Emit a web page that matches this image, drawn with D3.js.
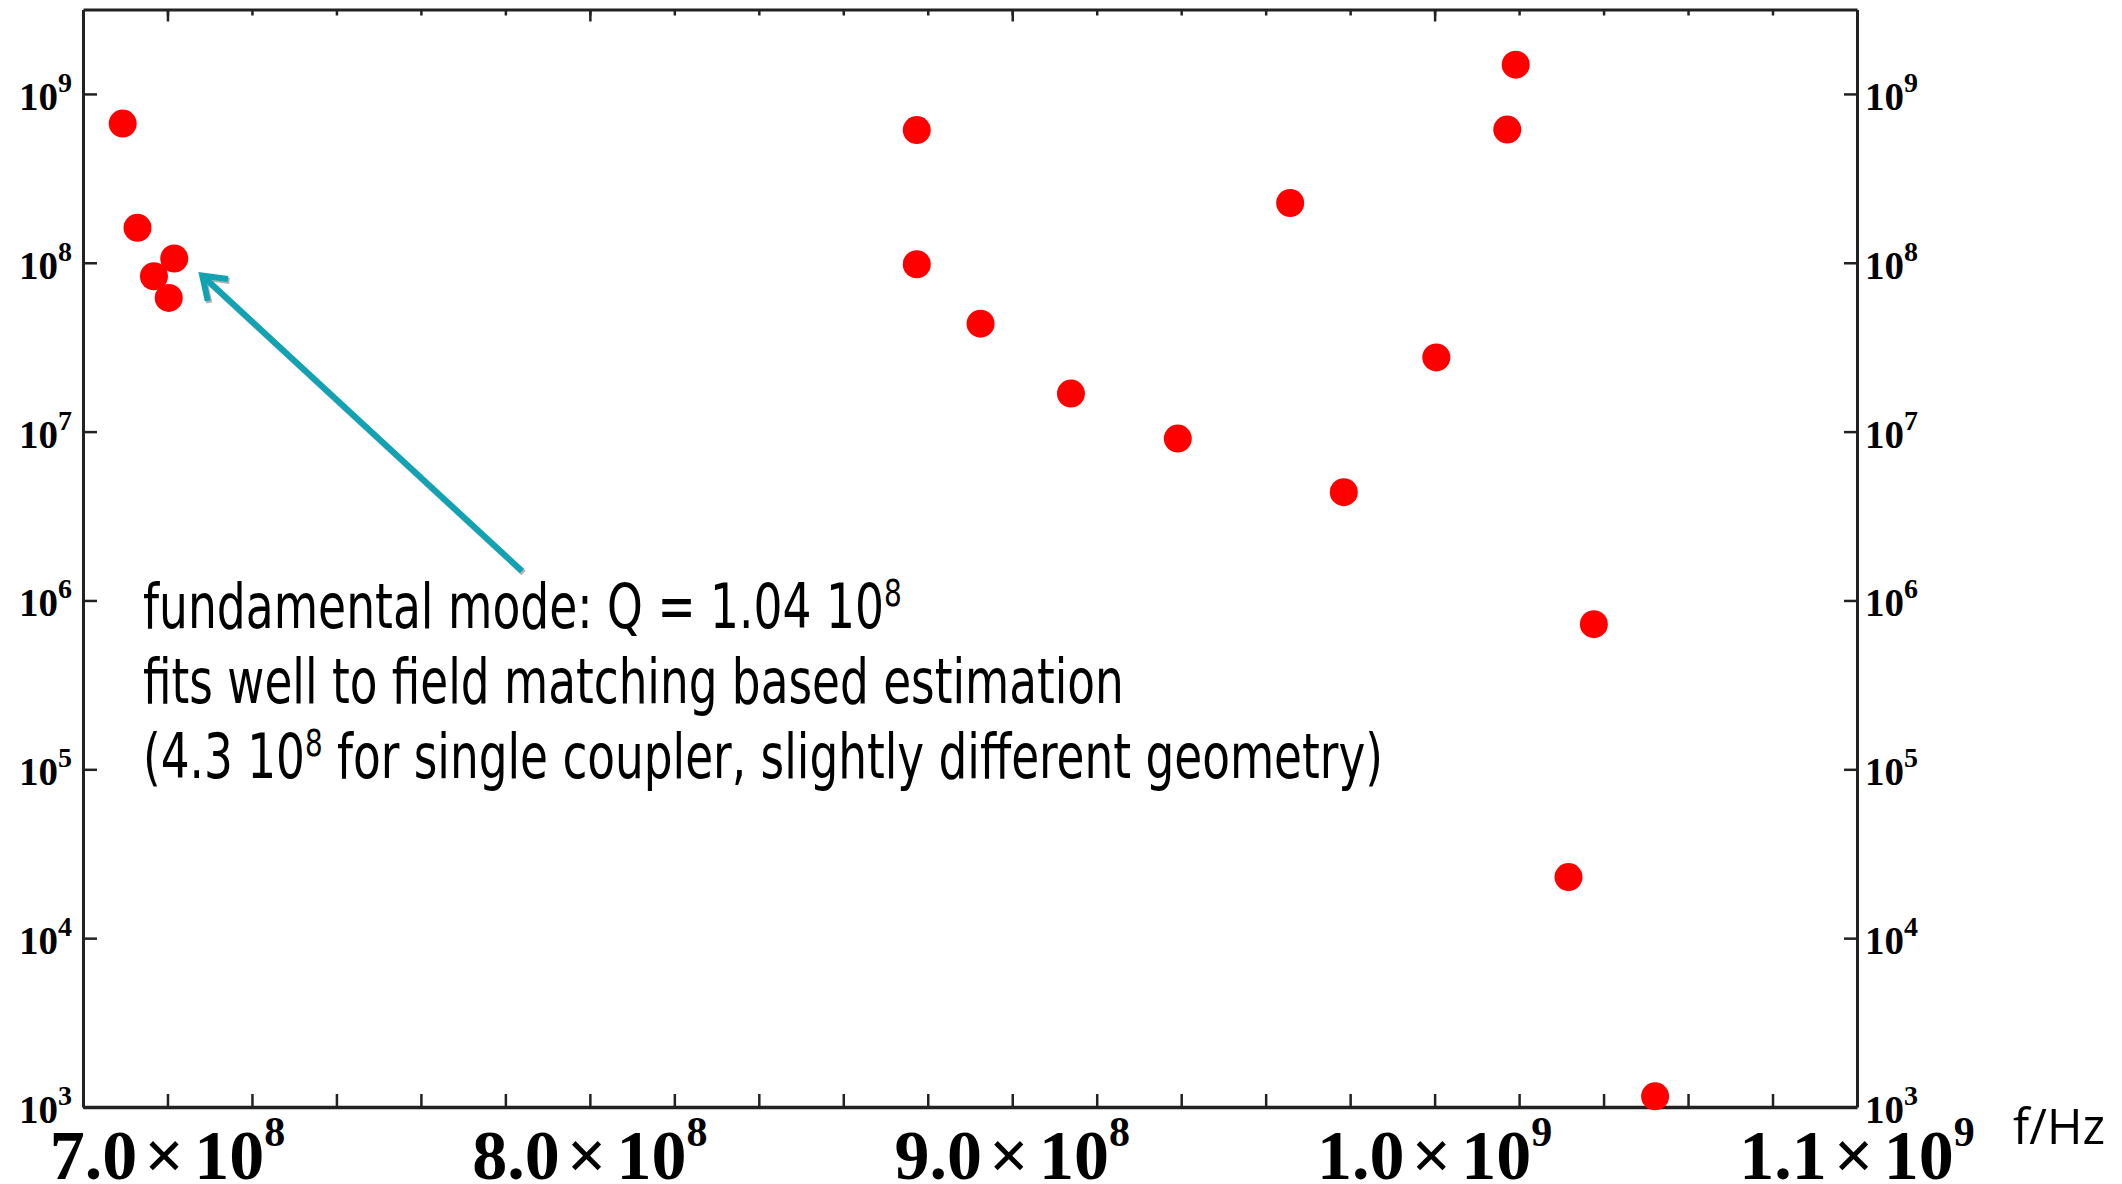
<!DOCTYPE html>
<html>
<head>
<meta charset="utf-8">
<script src="https://cdn.jsdelivr.net/npm/d3@7"></script>
<style>
  html, body { margin: 0; padding: 0; background: #fff; }
  svg { display: block; }
</style>
</head>
<body>
<svg id="chart" width="2122" height="1184"></svg>
<script>
var width = 2122,
    height = 1184;

// mode frequency (Hz) and quality factor
var freq = [6.894e8, 6.929e8, 6.968e8, 7.003e8, 7.016e8,
            8.774e8, 8.774e8, 8.925e8, 9.139e8, 9.392e8,
            9.658e8, 9.785e8, 1.0004e9, 1.0172e9, 1.0192e9,
            1.0317e9, 1.0377e9, 1.0522e9];
var qual = [6.67e8, 1.61e8, 8.32e7, 6.19e7, 1.06e8,
            6.11e8, 9.8e7, 4.36e7, 1.68e7, 9.1e6,
            2.26e8, 4.38e6, 2.75e7, 6.15e8, 1.49e9,
            2.30e4, 7.24e5, 1.157e3];

var xMajor = [7e8, 8e8, 9e8, 1e9, 1.1e9];
var xMant = ["7.0", "8.0", "9.0", "1.0", "1.1"];
var xExp = ["8", "8", "8", "9", "9"];
var yExp = [3, 4, 5, 6, 7, 8, 9];

var noteLines = [
  [["fundamental mode: Q = 1.04 10", 0], ["8", 1]],
  [["fits well to field matching based estimation", 0]],
  [["(4.3 10", 0], ["8", 1], [" for single coupler, slightly different geometry)", 0]]
];
var noteWidths = [759, 981, 1240];

var svg = d3.select("#chart");

var x = d3.scaleLinear()
    .domain([6.8e8, 1.1e9])
    .range([83, 1857]);

var y = d3.scaleLog()
    .domain([1e3, Math.pow(10, 9.5)])
    .range([1107, 9.5]);

var xMinor = d3.range(7.0e8, 1.1e9 - 1, 0.2e8);
var yTicks = yExp.map(function(e) { return Math.pow(10, e); });

function styleAxis(g, w) {
    g.selectAll("line").attr("stroke", "#222").attr("stroke-width", 2.5);
    g.select(".domain").attr("stroke", "#222").attr("stroke-width", w);
    g.selectAll("text").remove();
}

svg.append("g")
    .attr("transform", "translate(0,1107)")
    .call(d3.axisBottom(x).tickValues(xMinor).tickSize(-13).tickSizeOuter(0))
    .call(styleAxis, 3.5);

svg.append("g")
    .attr("transform", "translate(0,9.5)")
    .call(d3.axisTop(x).tickValues(xMinor).tickSize(-6).tickSizeOuter(0))
    .call(styleAxis, 3);

svg.append("g")
    .attr("transform", "translate(0,9.5)")
    .call(d3.axisTop(x).tickValues(xMajor.slice(0, 4)).tickSize(-12).tickSizeOuter(0))
    .call(styleAxis, 0);

svg.append("g")
    .attr("transform", "translate(83,0)")
    .call(d3.axisLeft(y).tickValues(yTicks).tickSize(-14).tickSizeOuter(0))
    .call(styleAxis, 3);

svg.append("g")
    .attr("transform", "translate(1857,0)")
    .call(d3.axisRight(y).tickValues(yTicks).tickSize(-13).tickSizeOuter(0))
    .call(styleAxis, 3);

// x tick labels  "7.0 x 10^8"
var serif = "'Liberation Serif', 'DejaVu Serif', serif";
var xl = svg.append("g").selectAll("text")
    .data(xMajor)
    .enter().append("text")
    .attr("x", function(d) { return x(d); })
    .attr("y", 1179)
    .attr("text-anchor", "middle")
    .style("font-family", serif)
    .style("font-weight", "bold")
    .style("font-size", "70px")
    .attr("fill", "#000");
xl.append("tspan").text(function(d, i) { return xMant[i]; });
xl.append("tspan").attr("dx", 7).text("\u00d7");
xl.append("tspan").attr("dx", 10).text("10");
xl.append("tspan").attr("dy", -33).style("font-size", "42px").text(function(d, i) { return xExp[i]; });

// y tick labels on both sides
function yLabels(xpos, anchor) {
    var t = svg.append("g").selectAll("text")
        .data(yTicks)
        .enter().append("text")
        .attr("x", xpos)
        .attr("y", function(d) { return y(d) + 16; })
        .attr("text-anchor", anchor)
        .style("font-family", serif)
        .style("font-weight", "bold")
        .style("font-size", "39px")
        .attr("fill", "#000");
    t.append("tspan").text("10");
    t.append("tspan").attr("dy", -18).style("font-size", "28px").text(function(d, i) { return yExp[i]; });
}
yLabels(72, "end");
yLabels(1865, "start");

// data points
svg.append("g").selectAll("circle")
    .data(freq)
    .enter().append("circle")
    .attr("cx", function(d) { return x(d); })
    .attr("cy", function(d, i) { return y(qual[i]); })
    .attr("r", 14)
    .attr("fill", "#ff0000");

// arrow pointing to the fundamental mode
var tip = [x(freq[4]) + 28, y(qual[4]) + 17],
    tail = [522, 571];
var ang = Math.atan2(tail[1] - tip[1], tail[0] - tip[0]),
    spread = 35 * Math.PI / 180,
    armLen = 26;
var a1 = [tip[0] + armLen * Math.cos(ang + spread), tip[1] + armLen * Math.sin(ang + spread)],
    a2 = [tip[0] + armLen * Math.cos(ang - spread), tip[1] + armLen * Math.sin(ang - spread)];

function drawArrow(g, dx, dy, color) {
    g.append("line")
        .attr("x1", tail[0] + dx).attr("y1", tail[1] + dy)
        .attr("x2", tip[0] + dx + 3 * Math.cos(ang)).attr("y2", tip[1] + dy + 3 * Math.sin(ang))
        .attr("stroke", color).attr("stroke-width", 6);
    g.append("path")
        .attr("d", "M" + (a1[0] + dx) + "," + (a1[1] + dy) + "L" + (tip[0] + dx) + "," + (tip[1] + dy) +
                   "L" + (a2[0] + dx) + "," + (a2[1] + dy))
        .attr("fill", "none").attr("stroke", color).attr("stroke-width", 6)
        .attr("stroke-linejoin", "miter");
}
var arrow = svg.append("g");
drawArrow(arrow, 1.5, 2, "#b0b0b0");
drawArrow(arrow, 0, 0, "#11a3b3");

// annotation text
var sans = "'Liberation Sans Narrow', 'DejaVu Sans Condensed', 'Arial Narrow', sans-serif";
noteLines.forEach(function(line, i) {
    var by = 628 + i * 75;
    var t = svg.append("text")
        .attr("x", 143)
        .attr("y", by)
        .style("font-family", sans)
        .style("font-size", "62px")
        .attr("fill", "#000");
    var up = 0;
    line.forEach(function(seg) {
        var s = t.append("tspan").text(seg[0]);
        if (seg[1]) { s.attr("dy", -22).style("font-size", "38px"); up = 1; }
        else if (up) { s.attr("dy", 22); up = 0; }
    });
    var w = t.node().getBBox().width;
    var k = noteWidths[i] / w;
    t.attr("transform", "translate(143,0) scale(" + k + ",1) translate(-143,0)");
});

svg.append("text")
    .attr("x", 2013)
    .attr("y", 1144)
    .attr("textLength", 92)
    .attr("lengthAdjust", "spacingAndGlyphs")
    .style("font-family", "'Open Sans', sans-serif")
    .style("font-size", "49px")
    .attr("fill", "#000")
    .text("f/Hz");
</script>
</body>
</html>
